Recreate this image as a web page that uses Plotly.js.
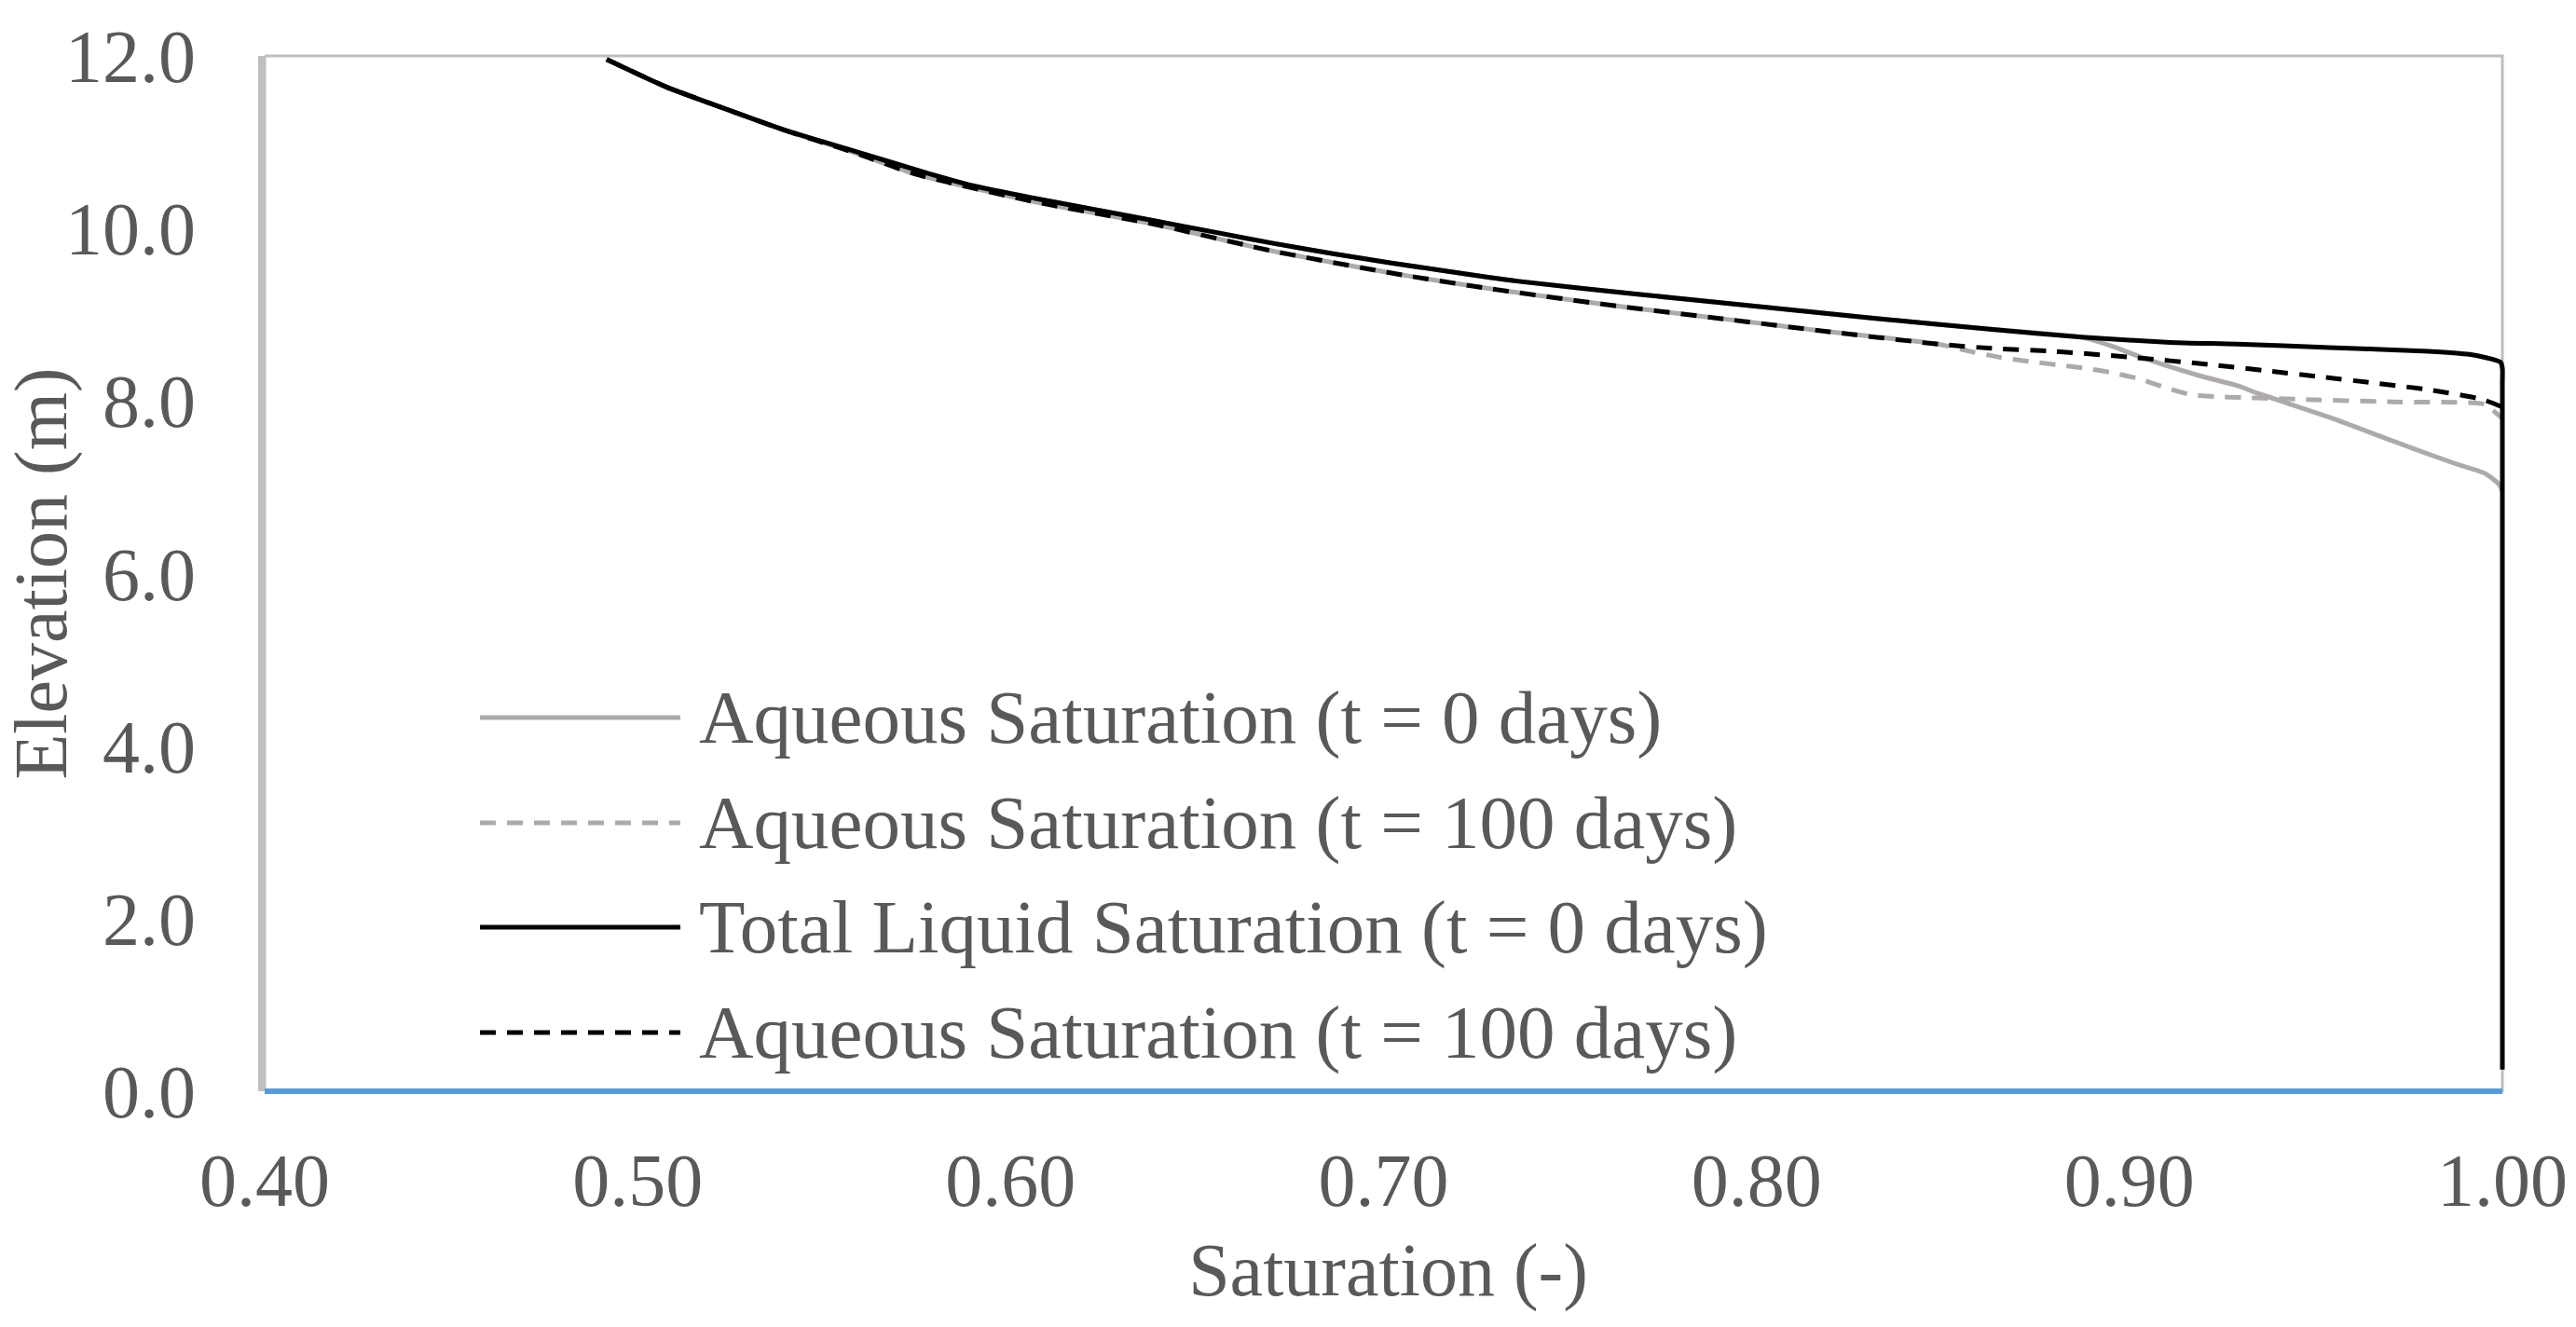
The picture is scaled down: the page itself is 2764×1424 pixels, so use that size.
<!DOCTYPE html>
<html>
<head>
<meta charset="utf-8">
<script src="https://cdn.plot.ly/plotly-3.0.1.min.js"></script>
<style>
  html, body { margin: 0; padding: 0; background: #ffffff; }
  #chart { width: 2764px; height: 1424px; }
</style>
</head>
<body>
<div id="chart"></div>
<script>
// ---- Data ----
// Total Liquid Saturation (t = 0 days) - black solid
var totalT0_x = [0.4917, 0.5077, 0.5220, 0.5394, 0.5587, 0.5777, 0.5904, 0.6064, 0.6224, 0.6384,
                 0.6544, 0.6701, 0.6861, 0.7021, 0.7289, 0.7357, 0.7676, 0.7995, 0.8314, 0.8633,
                 0.8871, 0.9110, 0.9288, 0.9537, 0.9787, 0.9912, 0.9995, 1.0000, 1.0000, 1.0000];
var totalT0_y = [11.96, 11.64, 11.41, 11.14, 10.89, 10.64, 10.49, 10.35, 10.22, 10.09,
                 9.96, 9.83, 9.71, 9.60, 9.43, 9.39, 9.24, 9.10, 8.96, 8.83,
                 8.74, 8.68, 8.66, 8.62, 8.58, 8.54, 8.45, 8.38, 8.20, 0.25];

// Aqueous Saturation (t = 0 days) - grey solid
var aqT0_x = [0.4917, 0.5077, 0.5220, 0.5394, 0.5587, 0.5777, 0.5904, 0.6064, 0.6224, 0.6384,
              0.6544, 0.6701, 0.6861, 0.7021, 0.7289, 0.7357, 0.7676, 0.7995, 0.8314, 0.8633,
              0.8871, 0.8951, 0.9030, 0.9191, 0.9288, 0.9350, 0.9537, 0.9704, 0.9870, 0.9954,
              0.9992, 1.0000];
var aqT0_y = [11.96, 11.64, 11.41, 11.14, 10.89, 10.64, 10.49, 10.35, 10.22, 10.09,
              9.96, 9.83, 9.71, 9.60, 9.43, 9.39, 9.24, 9.10, 8.96, 8.83,
              8.74, 8.64, 8.51, 8.29, 8.18, 8.08, 7.81, 7.54, 7.28, 7.16,
              7.03, 6.96];

// Aqueous Saturation (t = 100 days) - grey dashed
var aqT100_x = [0.4917, 0.5077, 0.5220, 0.5394, 0.5587, 0.5745, 0.6064, 0.6384, 0.6701, 0.7039,
                0.7289, 0.7628, 0.7915, 0.8201, 0.8487, 0.8568, 0.8648, 0.8728, 0.8808, 0.8879,
                0.8951, 0.9023, 0.9087, 0.9158, 0.9230, 0.9302, 0.9381, 0.9454, 0.9704, 0.9954,
                0.9983, 1.0000];
var aqT100_y = [11.96, 11.64, 11.41, 11.14, 10.87, 10.63, 10.31, 10.05, 9.74, 9.47,
                9.30, 9.10, 8.95, 8.80, 8.66, 8.58, 8.51, 8.46, 8.42, 8.38,
                8.33, 8.26, 8.17, 8.08, 8.05, 8.04, 8.03, 8.02, 7.99, 7.96,
                7.86, 7.80];

// Fourth series (labelled "Aqueous Saturation (t = 100 days)") - black dashed
var s4_x = [0.4917, 0.5077, 0.5220, 0.5394, 0.5587, 0.5745, 0.6064, 0.6384, 0.6701, 0.7039,
            0.7289, 0.7628, 0.7915, 0.8201, 0.8487, 0.8633, 0.8783, 0.8998, 0.9222, 0.9371,
            0.9512, 0.9655, 0.9804, 0.9945, 1.0000];
var s4_y = [11.96, 11.64, 11.41, 11.14, 10.87, 10.63, 10.31, 10.05, 9.74, 9.47,
            9.30, 9.10, 8.95, 8.80, 8.66, 8.61, 8.58, 8.51, 8.42, 8.35,
            8.28, 8.21, 8.13, 8.02, 7.93];

var seriesNames = [
  'Aqueous Saturation (t = 0 days)',
  'Aqueous Saturation (t = 100 days)',
  'Total Liquid Saturation (t = 0 days)',
  'Aqueous Saturation (t = 100 days)'
];

var xTickVals = [0.4, 0.5, 0.6, 0.7, 0.8, 0.9, 1.0];
var yTickVals = [0, 2, 4, 6, 8, 10, 12];

// ---- Styling ----
var GREY = '#AEAAAA';
var BLACK = '#000000';
var TEXT = '#595959';
var FONT = 'Liberation Serif, Times New Roman, serif';
var FS = 80;

var styles = [
  {color: GREY, width: 5, dash: 'solid'},
  {color: GREY, width: 5, dash: '0px,12px,17px,0px'},
  {color: BLACK, width: 5, dash: 'solid'},
  {color: BLACK, width: 5, dash: '17px,12px'}
];
var legendDash = ['solid', '17px,12px', 'solid', '17px,12px'];

var xs = [aqT0_x, aqT100_x, totalT0_x, s4_x];
var ys = [aqT0_y, aqT100_y, totalT0_y, s4_y];

var traces = xs.map(function (xv, i) {
  return {
    type: 'scatter', mode: 'lines', name: seriesNames[i],
    x: xv, y: ys[i], cliponaxis: false, showlegend: false,
    line: {color: styles[i].color, width: styles[i].width, dash: styles[i].dash, shape: 'spline', smoothing: 0.6},
    hoverinfo: 'skip'
  };
});

// Plot area: x range padded slightly on the right so the line at x = 1.00 is not clipped
var X_MIN = 0.4, X_MAX = 1.0, X_PAD = 0.0025;
var LEFT = 284, RIGHT_EDGE = 2685, TOP = 60, BOTTOM_EDGE = 1171;
var pxPerUnit = (RIGHT_EDGE - LEFT) / (X_MAX - X_MIN);
var margin = {l: LEFT, r: 2764 - RIGHT_EDGE - Math.round(X_PAD * pxPerUnit), t: TOP, b: 1424 - BOTTOM_EDGE};
var plotW = 2764 - margin.l - margin.r;
var plotH = 1424 - margin.t - margin.b;
function px2paperX(px) { return (px - margin.l) / plotW; }
function px2paperY(py) { return (margin.t + plotH - py) / plotH; }
var legendRowsPx = [770, 883, 995, 1108];
var legendLineX0 = px2paperX(515), legendLineX1 = px2paperX(730), legendTextX = px2paperX(748);

var shapes = [
  {type: 'rect', xref: 'x', yref: 'paper', x0: X_MIN, x1: X_MAX, y0: 0, y1: 1,
   line: {color: '#BFBFBF', width: 3}, layer: 'below'},
  {type: 'line', xref: 'x', yref: 'paper', x0: X_MIN, x1: X_MAX, y0: 0, y1: 0,
   line: {color: '#5B9BD5', width: 6}, layer: 'above'}
];
var annotations = [];
legendRowsPx.forEach(function (py, i) {
  var yy = px2paperY(py);
  shapes.push({type: 'line', xref: 'paper', yref: 'paper', x0: legendLineX0, x1: legendLineX1, y0: yy, y1: yy,
               line: {color: styles[i].color, width: styles[i].width, dash: legendDash[i]}, layer: 'above'});
  annotations.push({xref: 'paper', yref: 'paper', x: legendTextX, y: yy, xanchor: 'left', yanchor: 'middle',
                    text: seriesNames[i], showarrow: false, font: {family: FONT, size: 81, color: TEXT}});
});

var layout = {
  width: 2764, height: 1424,
  margin: margin,
  paper_bgcolor: '#ffffff', plot_bgcolor: '#ffffff',
  showlegend: false,
  font: {family: FONT, size: FS, color: TEXT},
  xaxis: {
    range: [X_MIN, X_MAX + X_PAD], tickvals: xTickVals, tickformat: '.2f',
    showgrid: false, zeroline: false, showline: false,
    ticks: '', ticklabelstandoff: 42,
    tickfont: {family: FONT, size: FS, color: TEXT},
    title: {text: 'Saturation (-)', font: {family: FONT, size: FS, color: TEXT}, standoff: 23}
  },
  yaxis: {
    range: [0, 12], tickvals: yTickVals, tickformat: '.1f',
    showgrid: false, zeroline: false, showline: true, linecolor: '#BFBFBF', linewidth: 7,
    ticks: '', ticklabelstandoff: 51,
    tickfont: {family: FONT, size: FS, color: TEXT},
    title: {text: 'Elevation (m)', font: {family: FONT, size: FS, color: TEXT}, standoff: 8}
  },
  shapes: shapes,
  annotations: annotations
};

Plotly.newPlot('chart', traces, layout, {staticPlot: true, displayModeBar: false});
</script>
</body>
</html>
